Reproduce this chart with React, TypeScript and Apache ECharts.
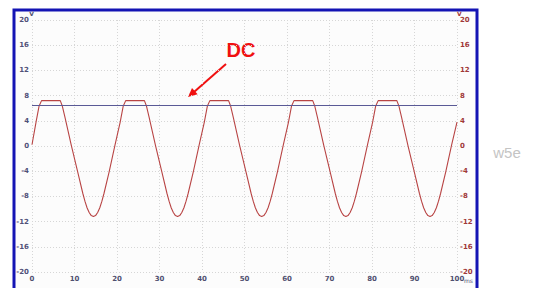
import React, { useEffect, useRef } from "react";
import * as echarts from "echarts";

// time (ms) of each sample
const times: number[] = [
  0, 0.95, 1.65, 2.25,
  6.65, 7.15, 7.75, 9.25, 10.75, 11.95, 12.45, 12.95, 13.45, 13.95, 14.45, 14.95, 15.45, 15.95, 16.45, 16.95, 18.15, 19.55, 20.75, 21.45, 22.05,
  26.45, 26.95, 27.55, 29.05, 30.55, 31.75, 32.25, 32.75, 33.25, 33.75, 34.25, 34.75, 35.25, 35.75, 36.25, 36.75, 37.95, 39.35, 40.55, 41.25, 41.85,
  46.25, 46.75, 47.35, 48.85, 50.35, 51.55, 52.05, 52.55, 53.05, 53.55, 54.05, 54.55, 55.05, 55.55, 56.05, 56.55, 57.75, 59.15, 60.35, 61.05, 61.65,
  66.05, 66.55, 67.15, 68.65, 70.15, 71.35, 71.85, 72.35, 72.85, 73.35, 73.85, 74.35, 74.85, 75.35, 75.85, 76.35, 77.55, 78.95, 80.15, 80.85, 81.45,
  85.85, 86.35, 86.95, 88.45, 89.95, 91.15, 91.65, 92.15, 92.65, 93.15, 93.65, 94.15, 94.65, 95.15, 95.65, 96.15, 97.35, 98.75, 100,
];
// voltage (V) of each sample
const volts: number[] = [
  0.2, 3.8, 6.3, 7.2,
  7.2, 6.3, 4.6, 0.1, -4.1, -7.5, -8.75, -9.8, -10.55, -11.05, -11.2, -11.05, -10.55, -9.8, -8.75, -7.5, -4.1, 0.2, 3.8, 6.3, 7.2,
  7.2, 6.3, 4.6, 0.1, -4.1, -7.5, -8.75, -9.8, -10.55, -11.05, -11.2, -11.05, -10.55, -9.8, -8.75, -7.5, -4.1, 0.2, 3.8, 6.3, 7.2,
  7.2, 6.3, 4.6, 0.1, -4.1, -7.5, -8.75, -9.8, -10.55, -11.05, -11.2, -11.05, -10.55, -9.8, -8.75, -7.5, -4.1, 0.2, 3.8, 6.3, 7.2,
  7.2, 6.3, 4.6, 0.1, -4.1, -7.5, -8.75, -9.8, -10.55, -11.05, -11.2, -11.05, -10.55, -9.8, -8.75, -7.5, -4.1, 0.2, 3.8, 6.3, 7.2,
  7.2, 6.3, 4.6, 0.1, -4.1, -7.5, -8.75, -9.8, -10.55, -11.05, -11.2, -11.05, -10.55, -9.8, -8.75, -7.5, -4.1, 0.2, 3.8,
];
const dcLevel = 6.5;
const xRange = [0, 100];
const yRange = [-20, 20];
const xStep = 10;
const yStep = 4;
const xUnit = "ms";
const annotation = "DC";
const watermark = "w5e";

export default function App() {
  const ref = useRef<HTMLDivElement>(null);
  useEffect(() => {
    if (!ref.current) return;
    const chart = echarts.init(ref.current, null, { renderer: "svg" });
    const data = times.map((t, i) => [t, volts[i]]);
    const labelFont = { fontFamily: "DejaVu Sans", fontSize: 7, fontWeight: "bold" as const };
    const grid = { show: true, lineStyle: { color: "#d6d6d6", type: [1, 2] as any, width: 1 } };
    chart.setOption({
      animation: false,
      backgroundColor: "#ffffff",
      grid: { left: 32, right: 76, top: 20, bottom: 16, containLabel: false },
      xAxis: {
        type: "value",
        min: xRange[0],
        max: xRange[1],
        interval: xStep,
        axisLine: { show: false, onZero: false },
        axisTick: { show: false },
        axisLabel: { ...labelFont, color: "#505070", margin: 3 },
        splitLine: grid,
      },
      yAxis: [
        {
          type: "value",
          min: yRange[0],
          max: yRange[1],
          interval: yStep,
          position: "left",
          name: "V",
          nameLocation: "end",
          nameGap: 1,
          nameTextStyle: { color: "#505070", fontFamily: "DejaVu Sans", fontSize: 6, fontWeight: "bold", align: "right", padding: [0, -2, 0, 0] },
          axisLine: { show: false, onZero: false },
          axisTick: { show: false },
          axisLabel: { ...labelFont, color: "#505078", margin: 3 },
          splitLine: grid,
        },
        {
          type: "value",
          min: yRange[0],
          max: yRange[1],
          interval: yStep,
          position: "right",
          name: "V",
          nameLocation: "end",
          nameGap: 1,
          nameTextStyle: { color: "#a03838", fontFamily: "DejaVu Sans", fontSize: 6, fontWeight: "bold", align: "left" },
          axisLine: { show: false, onZero: false },
          axisTick: { show: false },
          axisLabel: { ...labelFont, color: "#a03838", margin: 3 },
          splitLine: { show: false },
        },
      ],
      graphic: [
        {
          type: "rect",
          z: -10,
          silent: true,
          shape: { x: 14, y: 10, width: 463, height: 300 },
          style: { fill: "#fcfcfc", stroke: "#1414b4", lineWidth: 3 },
        },
        {
          type: "text",
          x: 464,
          y: 280,
          style: {
            text: xUnit,
            fill: "#555577",
            fontSize: 6,
            fontFamily: "DejaVu Sans",
            align: "left",
            verticalAlign: "middle",
          },
        },
        {
          type: "text",
          x: 241,
          y: 50,
          style: {
            text: annotation,
            fill: "#f01010",
            fontSize: 20,
            fontWeight: "bold",
            fontFamily: "Liberation Sans",
            align: "center",
            verticalAlign: "middle",
          },
        },
        {
          type: "line",
          shape: { x1: 226, y1: 64, x2: 194, y2: 92 },
          style: { stroke: "#f01010", lineWidth: 2 },
        },
        {
          type: "polygon",
          shape: { points: [[188, 97], [197.6, 94.3], [192.0, 87.9]] },
          style: { fill: "#f01010" },
        },
        {
          type: "text",
          x: 507,
          y: 152,
          style: {
            text: watermark,
            fill: "#c4c4c4",
            fontSize: 15,
            fontFamily: "Liberation Sans",
            align: "center",
            verticalAlign: "middle",
          },
        },
      ],
      series: [
        {
          type: "line",
          data,
          showSymbol: false,
          smooth: false,
          lineStyle: { color: "#b84444", width: 1.1, join: "round" },
          z: 3,
          markLine: {
            silent: true,
            symbol: "none",
            label: { show: false },
            lineStyle: { color: "#5a5a96", type: "solid", width: 1 },
            data: [{ yAxis: dcLevel }],
          },
        },
      ],
    });
    return () => chart.dispose();
  }, []);
  return <div ref={ref} style={{ position: "fixed", left: 0, top: 0, width: 533, height: 288 }} />;
}
